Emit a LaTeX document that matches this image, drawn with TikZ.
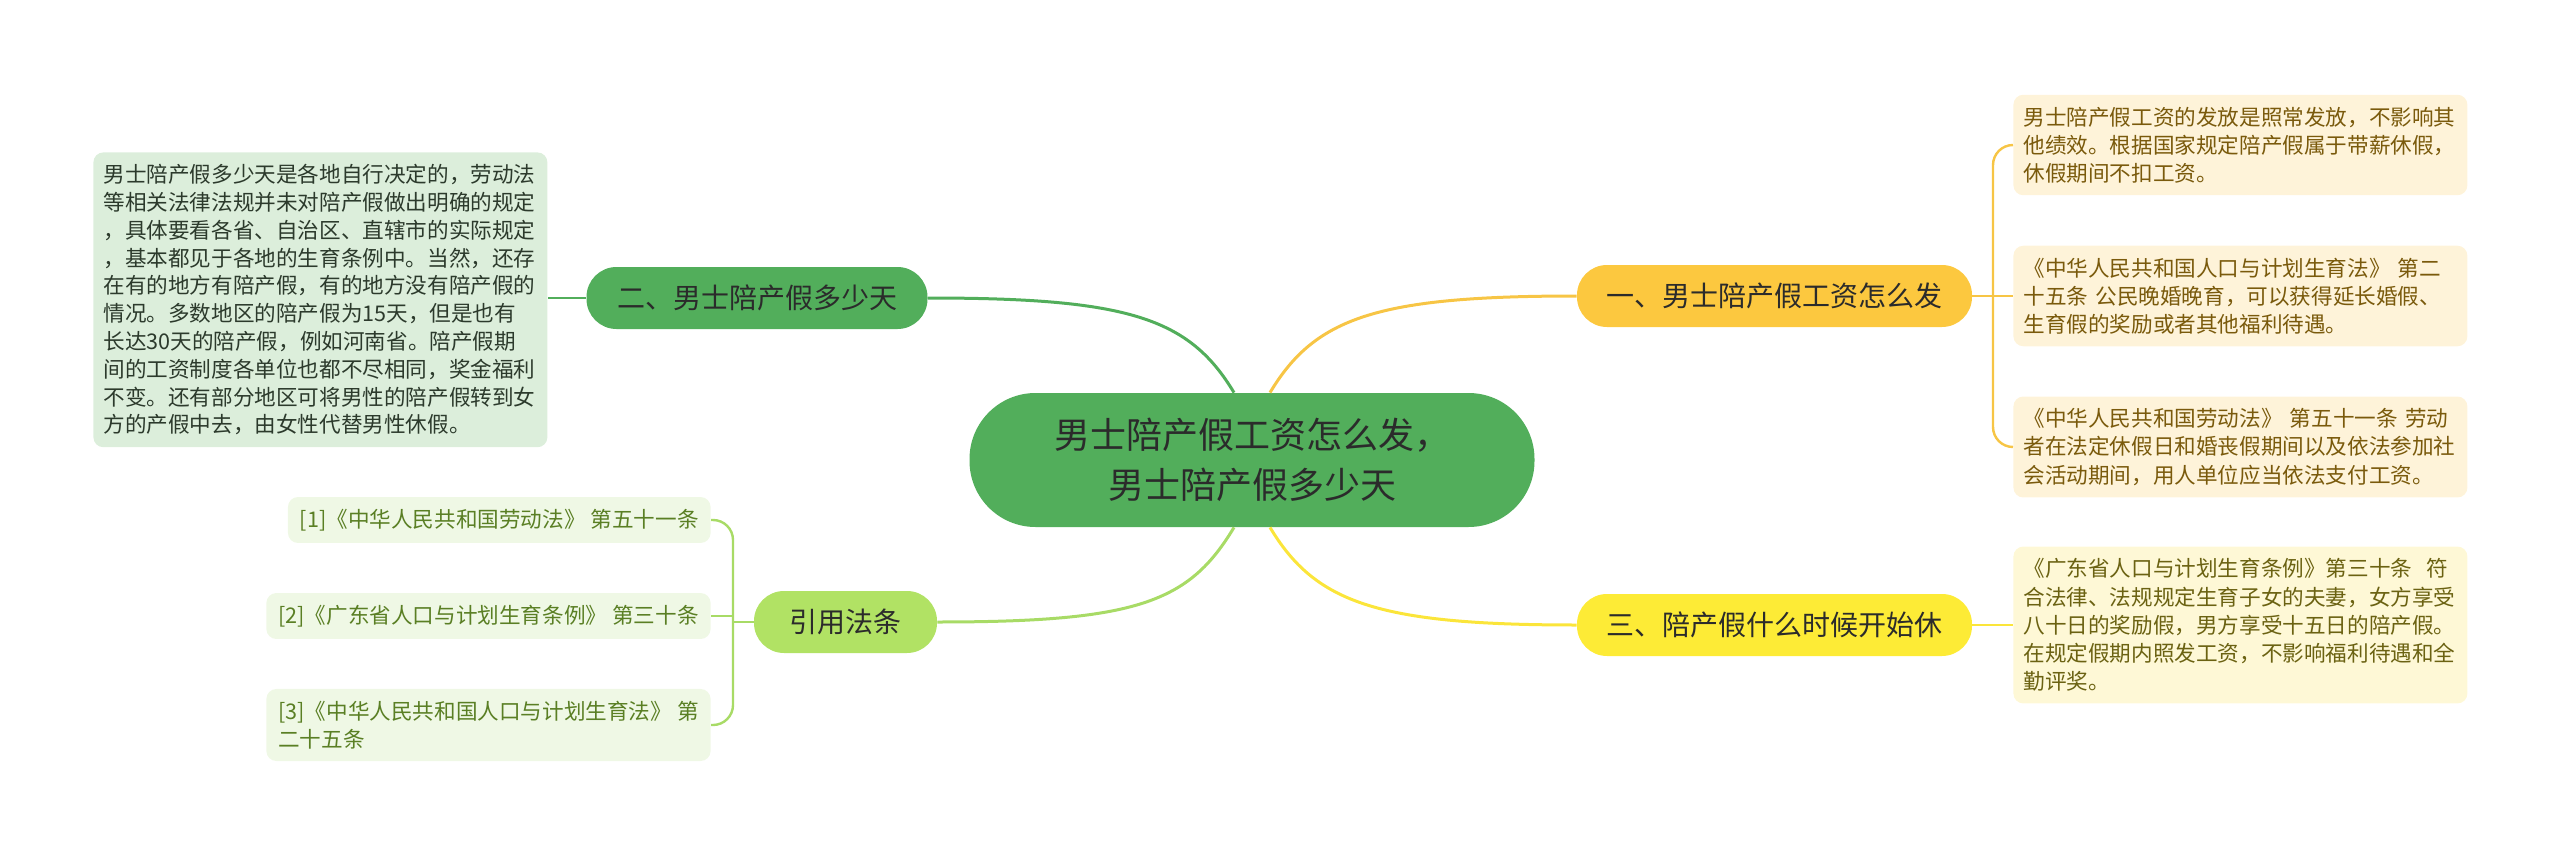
\documentclass[tikz,border=0pt]{standalone}
\usepackage{fontspec}
\setmainfont{Noto Sans CJK SC}

\definecolor{rootGreen}{HTML}{52AE5B}
\definecolor{citeGreen}{HTML}{B1E264}
\definecolor{citeLink}{HTML}{A8DB66}
\definecolor{oneOrange}{HTML}{FCC83F}
\definecolor{oneLink}{HTML}{F7C545}
\definecolor{threeYellow}{HTML}{FDEB36}
\definecolor{threeLink}{HTML}{FBE53A}
\definecolor{noteFill}{HTML}{DCEEDB}
\definecolor{noteText}{HTML}{2C3A2C}
\definecolor{refFill}{HTML}{EFF8E5}
\definecolor{refText}{HTML}{5A7F24}
\definecolor{warmFill}{HTML}{FEF3D9}
\definecolor{warmText}{HTML}{7A5A0C}
\definecolor{paleFill}{HTML}{FEF8D6}
\definecolor{paleText}{HTML}{6B6212}
\definecolor{topicText}{HTML}{2B2B2B}

\begin{document}
\begin{tikzpicture}[x=0.5pt, y=-0.5pt,
    root/.style={fill=rootGreen, rounded corners=33pt, minimum width=282.5pt, minimum height=67pt,
        align=center, text=topicText, font=\fontsize{18pt}{25pt}\selectfont},
    topic/.style={rounded corners=15pt, minimum height=31pt, text=topicText,
        font=\fontsize{14pt}{17pt}\selectfont},
    textbox/.style={rounded corners=5pt, align=left, inner xsep=5pt, inner ysep=6pt,
        text width=217pt, font=\fontsize{10.8pt}{14.1pt}\selectfont},
    refbox/.style={rounded corners=5pt, align=left, inner xsep=6pt, inner ysep=6pt,
        fill=refFill, text=refText, anchor=east, font=\fontsize{10.8pt}{14pt}\selectfont},
    link/.style={line width=1.5pt},
    sublink/.style={line width=1.2pt}
]
    \useasboundingbox (0,0) rectangle (2560,856);

    % CENTRE
    \node[root] (main) at (1252,460) {男士陪产假工资怎么发，\\男士陪产假多少天};

    % LEFT: 二 and 引用法条
    \node[topic, fill=rootGreen, minimum width=170.5pt] (two) at (757,298) {二、男士陪产假多少天};
    \node[topic, fill=citeGreen, minimum width=91.5pt] (cite) at (845.5,622) {引用法条};

    \node[textbox, fill=noteFill, text=noteText, anchor=north west, font=\fontsize{10.8pt}{13.9pt}\selectfont]
        (note) at (93,152) {男士陪产假多少天是各地自行决定的，劳动法\\
        等相关法律法规并未对陪产假做出明确的规定\\
        ，具体要看各省、自治区、直辖市的实际规定\\
        ，基本都见于各地的生育条例中。当然，还存\\
        在有的地方有陪产假，有的地方没有陪产假的\\
        情况。多数地区的陪产假为15天，但是也有\\
        长达30天的陪产假，例如河南省。陪产假期\\
        间的工资制度各单位也都不尽相同，奖金福利\\
        不变。还有部分地区可将男性的陪产假转到女\\
        方的产假中去，由女性代替男性休假。};

    \node[refbox] (c1) at (711,520) {[1]《中华人民共和国劳动法》 第五十一条};
    \node[refbox] (c2) at (711,616) {[2]《广东省人口与计划生育条例》 第三十条};
    \node[refbox] (c3) at (711,725) {[3]《中华人民共和国人口与计划生育法》 第\\二十五条};
    \coordinate (lbrk) at (733,622);

    % RIGHT: 一 and 三
    \node[topic, fill=oneOrange, minimum width=197.5pt] (one) at (1774.5,296) {一、男士陪产假工资怎么发};
    \node[topic, fill=threeYellow, minimum width=197.5pt] (three) at (1774.5,625) {三、陪产假什么时候开始休};

    \node[textbox, fill=warmFill, text=warmText, anchor=west] (r1) at (2013,145)
        {男士陪产假工资的发放是照常发放，不影响其\\他绩效。根据国家规定陪产假属于带薪休假，\\休假期间不扣工资。};
    \node[textbox, fill=warmFill, text=warmText, anchor=west] (r2) at (2013,296)
        {《中华人民共和国人口与计划生育法》 第二\\十五条 公民晚婚晚育，可以获得延长婚假、\\生育假的奖励或者其他福利待遇。};
    \node[textbox, fill=warmFill, text=warmText, anchor=west] (r3) at (2013,447)
        {《中华人民共和国劳动法》 第五十一条 劳动\\者在法定休假日和婚丧假期间以及依法参加社\\会活动期间，用人单位应当依法支付工资。};
    \node[textbox, fill=paleFill, text=paleText, anchor=west] (r4) at (2013,625)
        {《广东省人口与计划生育条例》第三十条~ 符\\合法律、法规规定生育子女的夫妻，女方享受\\八十日的奖励假，男方享受十五日的陪产假。\\在规定假期内照发工资，不影响福利待遇和全\\勤评奖。};
    \coordinate (rbrk) at (1993,296);

    % Main branches
    \draw[link, rootGreen] ([xshift=-9pt]main.north) .. controls +(-45,-75) and +(200,0) .. (two.east);
    \draw[link, oneLink] ([xshift=9pt]main.north) .. controls +(45,-75) and +(-200,0) .. (one.west);
    \draw[link, citeLink] ([xshift=-9pt]main.south) .. controls +(-45,75) and +(200,0) .. (cite.east);
    \draw[link, threeLink] ([xshift=9pt]main.south) .. controls +(45,75) and +(-200,0) .. (three.west);

    % Sub branches
    \draw[sublink, rootGreen] (two.west) -- (two.west -| note.east);
    \draw[sublink, citeLink] (cite.west) -- (lbrk);
    \draw[sublink, citeLink, rounded corners=10pt] (c1.east) -| (lbrk) |- (c3.east);
    \draw[sublink, citeLink] (c2.east) -- (c2.east -| lbrk);
    \draw[sublink, oneLink] (one.east) -- (r2.west);
    \draw[sublink, oneLink, rounded corners=10pt] (r1.west) -| (rbrk) |- (r3.west);
    \draw[sublink, threeLink] (three.east) -- (r4.west);
\end{tikzpicture}
\end{document}
